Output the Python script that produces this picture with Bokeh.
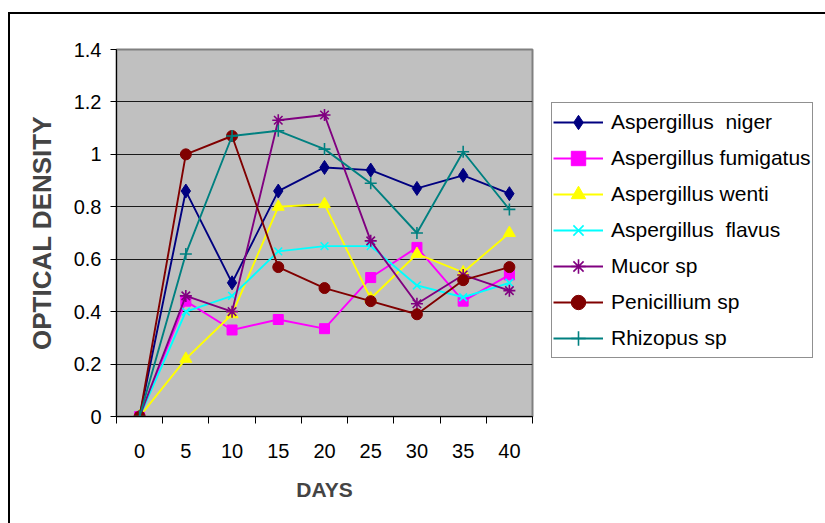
from bokeh.plotting import figure
from bokeh.models import Range1d, FixedTicker, CustomJSTickFormatter, Legend, LegendItem
from bokeh.embed import file_html
from bokeh.resources import INLINE

days = [0, 5, 10, 15, 20, 25, 30, 35, 40]
day_boundaries = [-2.5, 2.5, 7.5, 12.5, 17.5, 22.5, 27.5, 32.5, 37.5, 42.5]
y_ticks = [0, 0.2, 0.4, 0.6, 0.8, 1.0, 1.2, 1.4]

aspergillus_niger = [0, 0.86, 0.51, 0.86, 0.95, 0.94, 0.87, 0.92, 0.85]
aspergillus_fumigatus = [0, 0.44, 0.33, 0.37, 0.335, 0.53, 0.645, 0.44, 0.54]
aspergillus_wenti = [0, 0.22, 0.39, 0.80, 0.81, 0.45, 0.62, 0.55, 0.70]
aspergillus_flavus = [0, 0.40, 0.46, 0.63, 0.65, 0.65, 0.50, 0.455, 0.51]
mucor_sp = [0, 0.46, 0.40, 1.13, 1.15, 0.67, 0.43, 0.54, 0.48]
penicillium_sp = [0, 1.00, 1.07, 0.57, 0.49, 0.44, 0.39, 0.52, 0.57]
rhizopus_sp = [0, 0.62, 1.07, 1.09, 1.02, 0.89, 0.70, 1.01, 0.79]

series = [
    ("Aspergillus  niger", aspergillus_niger, "#000080", "diamond", 14),
    ("Aspergillus fumigatus", aspergillus_fumigatus, "#FF00FF", "square", 10),
    ("Aspergillus wenti", aspergillus_wenti, "#FFFF00", "triangle", 12),
    ("Aspergillus  flavus", aspergillus_flavus, "#00FFFF", "x", 11),
    ("Mucor sp", mucor_sp, "#800080", "asterisk", 12),
    ("Penicillium sp", penicillium_sp, "#800000", "circle", 11),
    ("Rhizopus sp", rhizopus_sp, "#008080", "cross", 12),
]

p = figure(frame_width=416, frame_height=367,
           min_border_left=106, min_border_right=292, min_border_top=35, min_border_bottom=107,
           x_range=Range1d(-2.5, 42.5), y_range=Range1d(0, 1.4),
           output_backend="svg", toolbar_location=None,
           background_fill_color="#C0C0C0", border_fill_color="white",
           styles={"margin-left": "8px", "margin-top": "12px",
                   "border-top": "2px solid black", "border-left": "2px solid black"})

p.outline_line_color = "#808080"
p.outline_line_width = 2

# axes
p.xaxis.ticker = FixedTicker(ticks=days, minor_ticks=day_boundaries)
p.xaxis.major_tick_out = 0
p.xaxis.major_tick_in = 0
p.xaxis.minor_tick_out = 7
p.xaxis.minor_tick_in = 0
p.xaxis.minor_tick_line_color = "black"
p.xaxis.axis_line_color = "black"
p.xaxis.major_label_standoff = 20
p.xaxis.major_label_text_font = "Liberation Sans"
p.xaxis.major_label_text_font_size = "20px"
p.xaxis.major_label_text_color = "black"
p.xaxis.axis_label = "DAYS"
p.xaxis.axis_label_text_font = "Liberation Sans"
p.xaxis.axis_label_text_font_style = "bold"
p.xaxis.axis_label_text_font_size = "21px"
p.xaxis.axis_label_standoff = 17

p.yaxis.ticker = FixedTicker(ticks=y_ticks)
p.yaxis.minor_tick_line_color = None
p.yaxis.major_tick_out = 6
p.yaxis.major_tick_in = 0
p.yaxis.major_tick_line_color = "black"
p.yaxis.axis_line_color = "black"
p.yaxis.formatter = CustomJSTickFormatter(code="return String(Math.round(tick*10)/10)")
p.yaxis.major_label_standoff = 9
p.yaxis.major_label_text_font = "Liberation Sans"
p.yaxis.major_label_text_font_size = "20px"
p.yaxis.major_label_text_color = "black"
p.yaxis.axis_label = "OPTICAL DENSITY"
p.yaxis.axis_label_text_font = "Liberation Sans"
p.yaxis.axis_label_text_font_style = "bold"
p.yaxis.axis_label_text_font_size = "26px"
p.yaxis.axis_label_standoff = 14

p.xgrid.grid_line_color = None
p.ygrid.ticker = FixedTicker(ticks=y_ticks)
p.ygrid.grid_line_color = "#1a1a1a"
p.ygrid.grid_line_width = 1

items = []
for name, vals, color, marker, size in series:
    l = p.line(days, vals, line_color=color, line_width=1.9)
    if marker in ("x", "asterisk", "cross"):
        s = p.scatter(days, vals, marker=marker, size=size, line_color=color,
                      line_width=1.6, fill_color=None)
    else:
        s = p.scatter(days, vals, marker=marker, size=size, line_color=color,
                      fill_color=color, line_width=1)
    items.append(LegendItem(label=name, renderers=[l, s]))

legend = Legend(items=items, location=(19, 58), orientation="vertical",
                label_text_font="Liberation Sans", label_text_font_size="21px",
                label_text_color="black", glyph_width=50, glyph_height=36,
                label_height=36, label_standoff=8, spacing=0, padding=1, margin=0,
                border_line_color="#222222", border_line_width=1,
                background_fill_color="white", background_fill_alpha=1)
p.add_layout(legend, "right")

open("out.html", "w").write(file_html(p, INLINE))
